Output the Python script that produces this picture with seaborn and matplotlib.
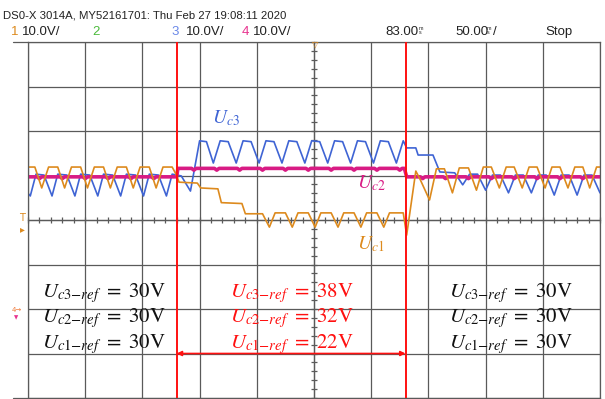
import numpy as np
import pandas as pd
import matplotlib
matplotlib.use("Agg")
import matplotlib.pyplot as plt
from matplotlib.lines import Line2D
from matplotlib.ticker import MultipleLocator
from matplotlib import font_manager
import seaborn as sns

# ---------------- data: time in ms (50 ms/div), voltage in V (10 V/div) ----------------
uc3_t = [0, 2, 7, 14, 21, 26, 34, 41, 46, 54, 61, 66, 74, 81, 86, 94, 101, 106, 114, 121,
         126, 134, 142, 150, 156, 162, 168, 175, 182, 188, 195, 202, 208, 215, 222, 228, 235, 242, 248, 255,
         262, 268, 275, 282, 288, 295, 302, 308, 315, 322, 328, 331, 339, 341, 354, 360, 373, 380, 386, 393,
         400, 406, 413, 420, 426, 433, 440, 446, 453, 460, 466, 473, 480, 486, 493, 500]
uc3_v = [6.0, 5.4, 10.3, 10.1, 5.4, 10.3, 10.1, 5.4, 10.3, 10.1, 5.4, 10.3, 10.1, 5.4, 10.3, 10.1, 5.4, 10.3, 10.1, 5.4,
         10.3, 9.9, 6.5, 17.8, 17.6, 12.8, 17.8, 17.6, 12.8, 17.8, 17.6, 12.8, 17.8, 17.6, 12.8, 17.8, 17.6, 12.8, 17.8, 17.6,
         12.8, 17.8, 17.6, 12.8, 17.8, 17.6, 12.8, 17.8, 17.6, 12.8, 17.8, 16.2, 16.2, 14.6, 14.6, 10.8, 10.6, 7.9, 10.3, 10.3,
         6.7, 10.1, 10.1, 6.1, 10.1, 10.1, 6.1, 10.1, 10.1, 5.6, 10.1, 10.1, 5.6, 10.1, 10.1, 6.1]

uc2_t = [0, 8, 10, 12, 28, 30, 32, 48, 50, 52, 68, 70, 72, 88, 90, 92, 108, 110, 112, 128, 130,
         131, 143, 145, 147, 163, 165, 167, 183, 185, 187, 203, 205, 207, 223, 225, 227, 243, 245, 247,
         263, 265, 267, 283, 285, 287, 303, 305, 307, 323, 325, 327, 329,
         331, 343, 345, 347, 363, 365, 367, 383, 385, 387, 403, 405, 407, 423, 425, 427, 443, 445, 447,
         463, 465, 467, 483, 485, 487, 500]
uc2_v = [9.7, 9.7, 9.3, 9.7, 9.7, 9.3, 9.7, 9.7, 9.3, 9.7, 9.7, 9.3, 9.7, 9.7, 9.3, 9.7, 9.7, 9.3, 9.7, 9.7, 9.7,
         11.6, 11.6, 11.2, 11.6, 11.6, 11.2, 11.6, 11.6, 11.2, 11.6, 11.6, 11.2, 11.6, 11.6, 11.2, 11.6, 11.6, 11.2, 11.6,
         11.6, 11.2, 11.6, 11.6, 11.2, 11.6, 11.6, 11.2, 11.6, 11.6, 11.2, 11.6, 11.6,
         9.7, 9.7, 9.3, 9.7, 9.7, 9.3, 9.7, 9.7, 9.3, 9.7, 9.7, 9.3, 9.7, 9.7, 9.3, 9.7, 9.7, 9.3, 9.7,
         9.7, 9.3, 9.7, 9.7, 9.3, 9.7, 9.7]

uc1_t = [0, 6, 12, 18, 26, 32, 38, 46, 52, 58, 66, 72, 78, 86, 92, 98, 106, 112, 118, 126,
         130, 132, 148, 151, 166, 169, 187, 190, 205, 211, 216, 225, 231, 236, 245, 251, 256, 265, 271, 276,
         285, 291, 296, 305, 311, 316, 328, 331, 339, 343, 351, 357, 364, 371, 377, 385, 392, 398, 405, 412,
         418, 425, 432, 438, 445, 452, 458, 465, 472, 478, 485, 491, 497, 500]
uc1_v = [11.9, 11.9, 7.2, 11.9, 11.9, 7.2, 11.9, 11.9, 7.2, 11.9, 11.9, 7.2, 11.9, 11.9, 7.2, 11.9, 11.9, 7.2, 11.9, 11.9,
         10.0, 8.5, 8.3, 7.2, 7.0, 3.9, 3.7, 1.4, 1.4, -1.6, 1.6, 1.6, -1.6, 1.6, 1.6, -1.6, 1.6, 1.6, -1.6, 1.6,
         1.6, -1.6, 1.6, 1.6, -1.6, 1.6, 1.6, -3.4, 11.0, 9.0, 4.5, 11.5, 11.5, 6.1, 11.7, 11.7, 6.7, 11.9, 11.9, 7.2,
         11.9, 11.9, 7.2, 11.9, 11.9, 7.2, 11.9, 11.9, 7.2, 11.9, 11.9, 7.2, 11.9, 11.9]

step_times = [130, 330]
ref_names = ["c3", "c2", "c1"]
ref_left = ["30", "30", "30"]
ref_mid = ["38", "32", "22"]
ref_right = ["30", "30", "30"]

header_title = "DS0-X 3014A, MY52161701: Thu Feb 27 19:08:11 2020"
header_items = ["1", "10.0V/", "2", "3", "10.0V/", "4", "10.0V/", "83.00", "50.00", "Stop"]

# ---------------- style ----------------
sns.set_theme(style="white")
plt.rcParams["mathtext.fontset"] = "stix"
plt.rcParams["font.family"] = ["DejaVu Sans"]
names = {f.name for f in font_manager.fontManager.ttflist}
head_font = "Liberation Sans Narrow" if "Liberation Sans Narrow" in names else "Liberation Sans"

C_BLUE = "#3f64d4"
C_MAG = "#d81b84"
C_ORA = "#dd8a1d"
C_RED = "#ff1010"
C_GRID = "#5a5a5a"
C_TXT = "#222222"

W, H = 605, 399
fig = plt.figure(figsize=(W / 100, H / 100), dpi=100)
fig.patch.set_facecolor("white")
ax = fig.add_axes([28 / W, 1 / H, 572 / W, 356 / H])
ax.patch.set_alpha(0)

# center graticule with ticks (behind traces)
axc = fig.add_axes(ax.get_position(), facecolor="white")
axc.set_zorder(ax.get_zorder() - 1)
axc.set_xlim(0, 500)
axc.set_ylim(-40, 40)
for s in ["top", "right"]:
    axc.spines[s].set_visible(False)
axc.spines["left"].set_position(("data", 250))
axc.spines["bottom"].set_position(("data", 0))
for s in ["left", "bottom"]:
    axc.spines[s].set_color(C_GRID)
    axc.spines[s].set_linewidth(0.9)
axc.xaxis.set_major_locator(MultipleLocator(50))
axc.xaxis.set_minor_locator(MultipleLocator(10))
axc.yaxis.set_major_locator(MultipleLocator(10))
axc.yaxis.set_minor_locator(MultipleLocator(2))
axc.tick_params(which="both", direction="inout", length=4.5, width=0.9, colors=C_GRID,
                bottom=True, left=True, labelbottom=False, labelleft=False)

df = pd.concat([
    pd.DataFrame({"t": uc3_t, "v": uc3_v, "ch": "Uc3"}),
    pd.DataFrame({"t": uc2_t, "v": uc2_v, "ch": "Uc2"}),
    pd.DataFrame({"t": uc1_t, "v": uc1_v, "ch": "Uc1"}),
], ignore_index=True)

sns.lineplot(data=df[df.ch == "Uc3"], x="t", y="v", color=C_BLUE, lw=1.2,
             estimator=None, sort=False, ax=ax)
sns.lineplot(data=df[df.ch == "Uc2"], x="t", y="v", color=C_MAG, lw=2.6,
             estimator=None, sort=False, ax=ax)
sns.lineplot(data=df[df.ch == "Uc1"], x="t", y="v", color=C_ORA, lw=1.2,
             estimator=None, sort=False, ax=ax)

ax.set_xlim(0, 500)
ax.set_ylim(-40, 40)
ax.set_xticks(np.arange(0, 501, 50))
ax.set_yticks(np.arange(-40, 41, 10))
ax.set_xlabel("")
ax.set_ylabel("")
ax.tick_params(length=0, labelbottom=False, labelleft=False)
ax.grid(True, color=C_GRID, lw=0.9)
ax.set_axisbelow(True)
for s in ax.spines.values():
    s.set_color(C_GRID)
    s.set_linewidth(0.9)

for ts in step_times:
    ax.axvline(ts, color=C_RED, lw=1.4, zorder=5)
ax.annotate("", xy=(step_times[0], -30), xytext=(step_times[1], -30),
            arrowprops=dict(arrowstyle="<|-|>", color=C_RED, lw=1.2,
                            mutation_scale=7, shrinkA=0, shrinkB=0), zorder=6)

# trace labels
ax.text(161, 21.8, r"$U_{c3}$", color=C_BLUE, fontsize=14, va="baseline")
ax.text(288, 7.2, r"$U_{c2}$", color=C_MAG, fontsize=14, va="baseline")
ax.text(288, -6.6, r"$U_{c1}$", color=C_ORA, fontsize=14, va="baseline")

# reference annotations
rows_v = [-17.4, -23.1, -28.8]
for i, n in enumerate(ref_names):
    ax.text(12, rows_v[i], rf"$U_{{{n}{{-}}ref}}\ =\ \mathrm{{{ref_left[i]}V}}$", fontsize=15,
            color="#111111", va="baseline")
    ax.text(176.5, rows_v[i], rf"$U_{{{n}{{-}}ref}}\ =\ \mathrm{{{ref_mid[i]}V}}$", fontsize=15,
            color=C_RED, va="baseline")
    ax.text(368, rows_v[i], rf"$U_{{{n}{{-}}ref}}\ =\ \mathrm{{{ref_right[i]}V}}$", fontsize=15,
            color="#111111", va="baseline")

# header
fig.text(3 / W, 1 - 15 / H, header_title, family=head_font, fontsize=8.2, color=C_TXT, va="center")
head_x = [11, 22, 92, 171, 186, 242, 253, 385, 455, 545]
head_c = [C_ORA, C_TXT, "#4cbb3c", "#6a88e8", C_TXT, "#e8338f", C_TXT, C_TXT, C_TXT, C_TXT]
for s, x, c in zip(header_items, head_x, head_c):
    fig.text(x / W, 1 - 32 / H, s, family=head_font, fontsize=9.5, color=c, va="center")
for ux in [419, 487]:
    fig.text(ux / W, 1 - 31 / H, "m\ns", family=head_font, fontsize=3.8, color=C_TXT,
             va="center", linespacing=0.75)
fig.text(493 / W, 1 - 32 / H, "/", family=head_font, fontsize=9.5, color=C_TXT, va="center")

# frame extensions at left
fig.add_artist(Line2D([13 / W, 28 / W], [1 - 42 / H, 1 - 42 / H], color=C_GRID, lw=0.9))
fig.add_artist(Line2D([13 / W, 28 / W], [1 - 398 / H, 1 - 398 / H], color=C_GRID, lw=0.9))

# small scope markers
fig.text(19 / W, 1 - 218 / H, "T", color=C_ORA, fontsize=7, va="center")
fig.text(20 / W, 1 - 229 / H, "\u25B8", color=C_ORA, fontsize=7, va="center")
fig.text(12 / W, 1 - 310 / H, "4\u2192", color="#f07a3a", fontsize=5, va="center")
fig.text(14 / W, 1 - 318 / H, "\u25BC", color="#e8338f", fontsize=4, va="center")
fig.text(315 / W, 1 - 44 / H, "\u25BD", color=C_ORA, fontsize=6, va="center", ha="center")

fig.savefig("out.png", dpi=100, facecolor="white")
